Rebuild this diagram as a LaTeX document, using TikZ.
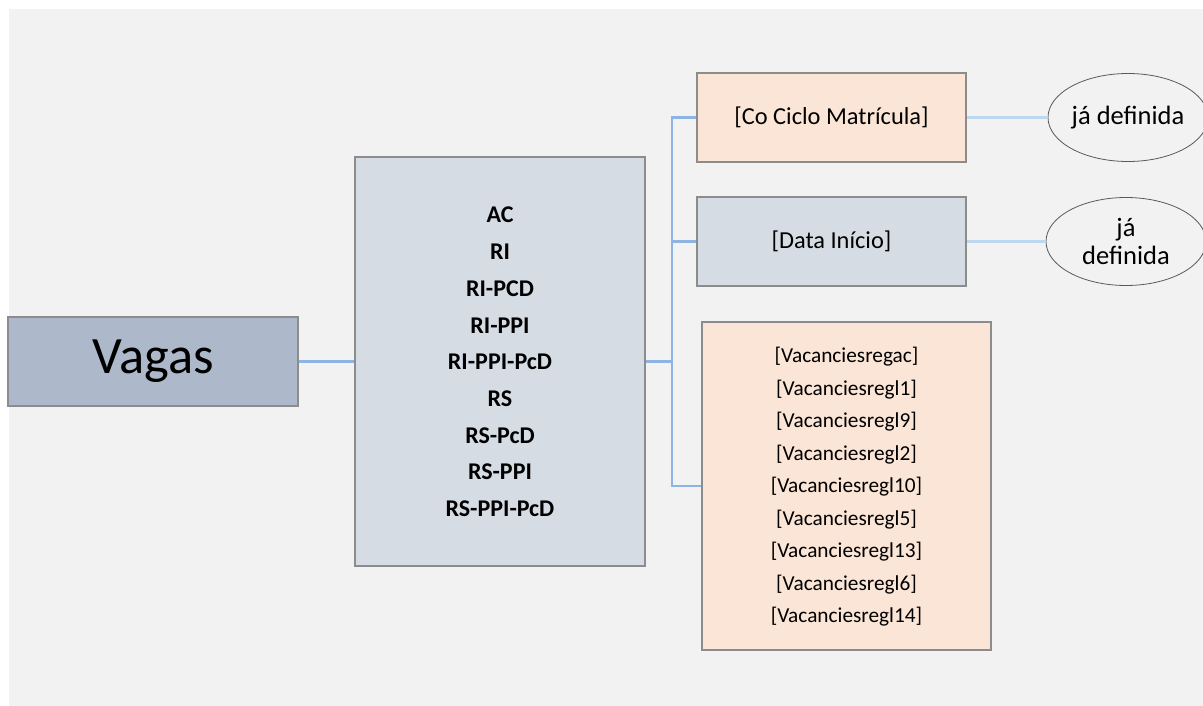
\documentclass[tikz,border=0pt]{standalone}
\usepackage{fontspec}
\setmainfont{Carlito}
\usetikzlibrary{shapes.geometric}
\definecolor{bgc}{HTML}{F2F2F2}
\definecolor{vagasc}{HTML}{ADB9CA}
\definecolor{greyblue}{HTML}{D6DCE4}
\definecolor{peach}{HTML}{FBE5D6}
\definecolor{borderc}{HTML}{8C8C8C}
\definecolor{linkc}{HTML}{8EB4E3}
\definecolor{lightlink}{HTML}{BDD7EE}
\definecolor{ellc}{HTML}{595959}
\tikzset{
  box/.style={draw=borderc, line width=1.2pt, rectangle, inner sep=0pt, align=center},
  conn/.style={draw=linkc, line width=2.5pt},
  lconn/.style={draw=lightlink, line width=2.5pt},
  oval/.style={draw=ellc, line width=0.8pt, ellipse, inner sep=0pt, align=center,
    minimum width=160pt, minimum height=88pt, font=\fontsize{26.5}{28}\selectfont}
}
\begin{document}
\begin{tikzpicture}[x=1pt,y=-1pt]
\useasboundingbox (0,0) rectangle (1203,706);
\clip (0,0) rectangle (1203,706);
\fill[bgc] (9,9) rectangle (1203,706);
% Vagas
\node[box, fill=vagasc, minimum width=290pt, minimum height=89pt,
  font=\fontsize{52.5}{56}\selectfont] (vagas) at (153,361.5) {Vagas};
% middle box
\node[box, fill=greyblue, minimum width=290pt, minimum height=409pt] (mid) at (500,361.5) {};
\node[align=center, font=\bfseries\fontsize{24}{36.7}\selectfont, inner sep=0pt] (midtext) at (500,362)
  {AC\\RI\\RI-PCD\\RI-PPI\\RI-PPI-PcD\\RS\\RS-PcD\\RS-PPI\\RS-PPI-PcD};
% right boxes
\node[box, fill=peach, minimum width=269pt, minimum height=89pt,
  font=\fontsize{24.4}{28}\selectfont] (co) at (831.5,117.5) {{[Co Ciclo Matrícula]}};
\node[box, fill=greyblue, minimum width=269pt, minimum height=89pt,
  font=\fontsize{24.4}{28}\selectfont] (data) at (831.5,241.5) {{[Data Início]}};
\node[box, fill=peach, minimum width=289pt, minimum height=328pt] (vac) at (846.5,486) {};
\node[align=center, font=\fontsize{21.3}{32.5}\selectfont, inner sep=0pt] (vactext) at (846.5,487)
  {{[Vacanciesregac]}\\{[Vacanciesregl1]}\\{[Vacanciesregl9]}\\{[Vacanciesregl2]}\\{[Vacanciesregl10]}\\{[Vacanciesregl5]}\\{[Vacanciesregl13]}\\{[Vacanciesregl6]}\\{[Vacanciesregl14]}};
% ellipses
\node[oval] (e1) at (1128,117.5) {já definida};
\node[oval, font=\fontsize{26.5}{28}\selectfont] (e2) at (1126,241.5) {já\\definida};
% connectors
\coordinate (bus) at (672,361.5);
\draw[conn] (vagas.east) -- (mid.west);
\draw[conn] (mid.east) -- (bus);
\draw[conn] (bus) |- (co.west);
\draw[conn] (bus) |- (data.west);
\draw[conn] (bus) |- (vac.west);
\draw[lconn] (co.east) -- (e1.west);
\draw[lconn] (data.east) -- (e2.west);
\end{tikzpicture}
\end{document}
